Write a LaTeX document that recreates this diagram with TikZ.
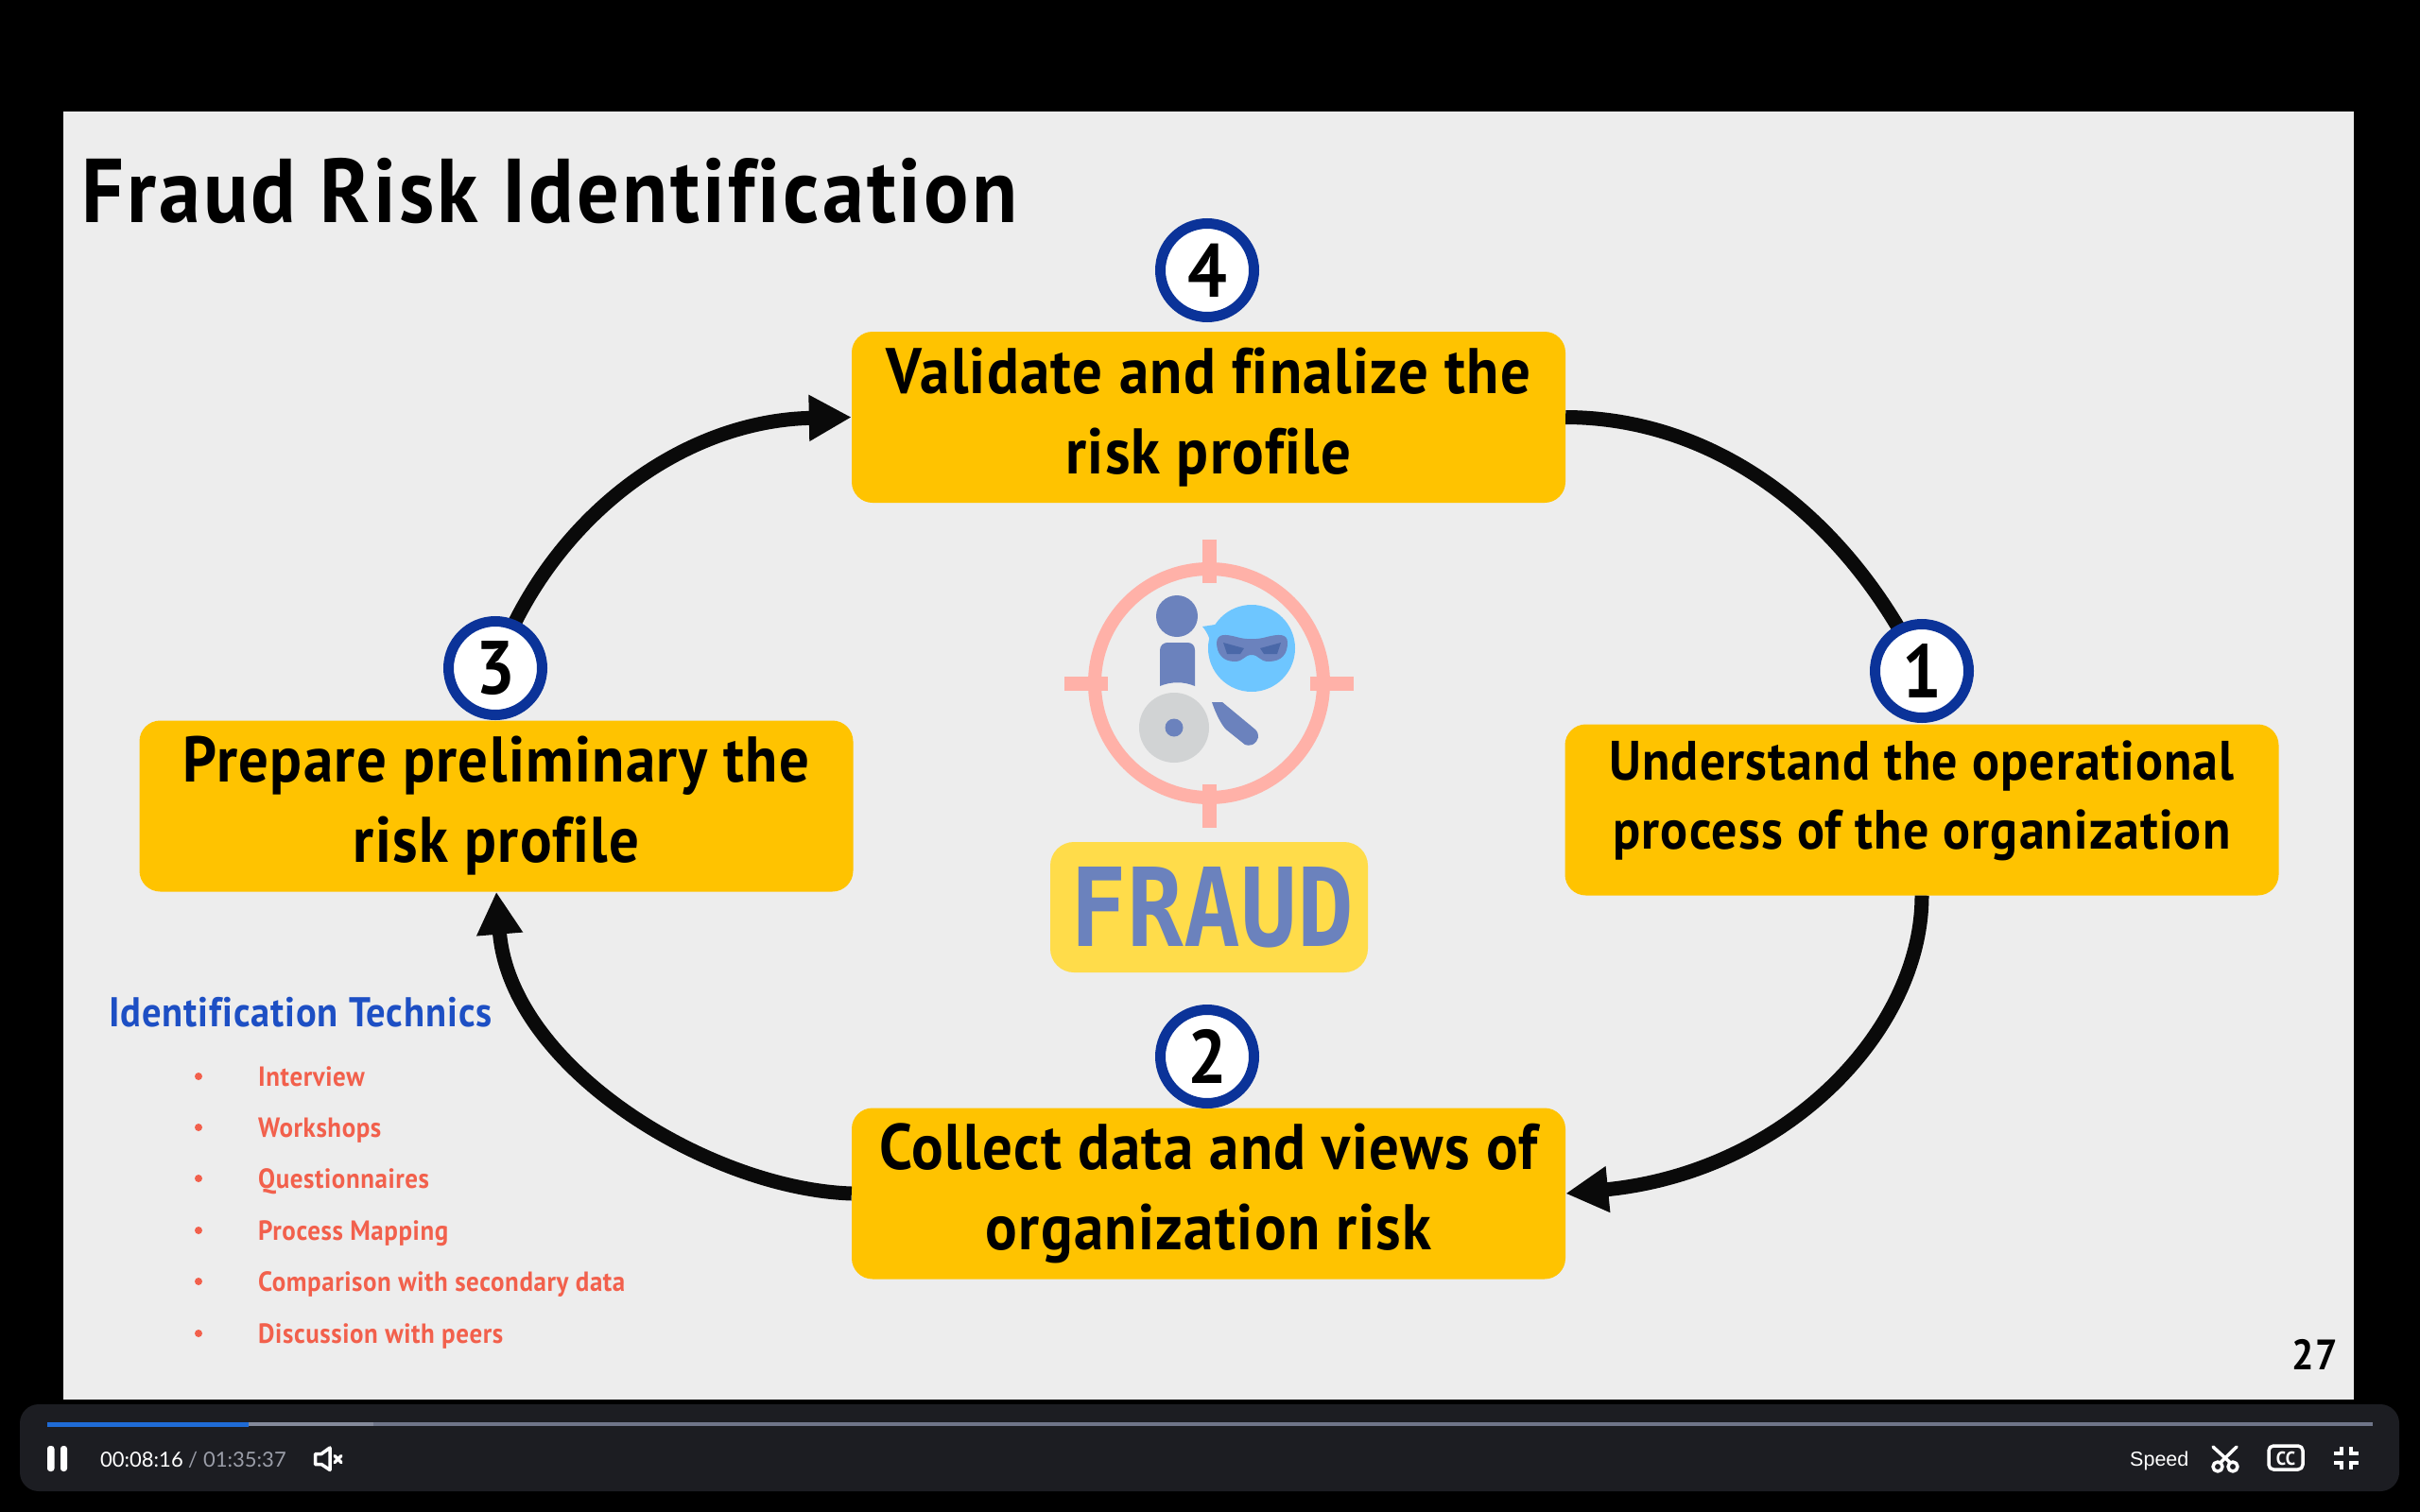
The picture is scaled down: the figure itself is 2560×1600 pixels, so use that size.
\documentclass[tikz,border=0pt]{standalone}
\usepackage{graphicx}
\usepackage{fontspec}
\setmainfont{PT Sans}[FakeStretch=0.92,LetterSpace=2,Ligatures=CommonOff]
\newfontfamily\titlefont{PT Sans}[FakeStretch=0.92,LetterSpace=3.25,Ligatures=CommonOff]
\newfontfamily\uifont{Lato}
\newfontfamily\spfont{Liberation Sans}
\newfontfamily\logofont{DejaVu Sans Mono}
\usetikzlibrary{arrows.meta}
\definecolor{slidebg}{HTML}{EDEDED}
\definecolor{boxy}{HTML}{FFC300}
\definecolor{ringblue}{HTML}{0B3399}
\definecolor{headblue}{HTML}{1D4FC4}
\definecolor{listred}{HTML}{F2604C}
\definecolor{iconblue}{HTML}{6B82BD}
\definecolor{iconpink}{HTML}{FFB1A8}
\definecolor{iconsky}{HTML}{6EC6FF}
\definecolor{icondark}{HTML}{4A68A8}
\definecolor{icongrey}{HTML}{D1D3D4}
\definecolor{logoy}{HTML}{FFDC4A}
\definecolor{barbg}{HTML}{1C1D22}
\definecolor{track}{HTML}{6F7589}
\definecolor{played}{HTML}{1F6BD6}
\definecolor{uigrey}{HTML}{9A9DA8}
\definecolor{inkblack}{HTML}{0A0A0A}
\tikzset{
  stepbox/.style={fill=boxy,rounded corners=22pt,minimum width=755pt,minimum height=181pt,inner sep=0pt,align=center,font=\bfseries\fontsize{68.3}{85}\selectfont},
  stepbare/.style={inner sep=0pt,align=center,font=\bfseries\fontsize{58.7}{73}\selectfont},
  badge/.style={circle,draw=ringblue,line width=11pt,fill=white,minimum size=99pt,inner sep=0pt,font=\bfseries\fontsize{80}{80}\selectfont},
  flow/.style={line width=15pt,inkblack},
  flowarrow/.style={flow,-{Triangle[length=45pt,width=46pt]}},
  listitem/.style={anchor=base west,inner sep=0pt,text=listred,font=\bfseries\fontsize{29.3}{30}\selectfont},
  uiicon/.style={white,line width=3.5pt,line cap=round,line join=round},
}
\begin{document}
\begin{tikzpicture}[x=1pt,y=-1pt]
\useasboundingbox (0,0) rectangle (2560,1600);
\fill[black] (0,0) rectangle (2560,1600);
\fill[slidebg] (67,118) rectangle (2490,1481);
% title
\node[anchor=base west,inner sep=0pt,font=\titlefont\bfseries\fontsize{96}{96}\selectfont] (title) at (86,235) {Fraud Risk Identification};
% boxes
\node[stepbox] (b4) at (1278.5,441.5) {Validate and finalize the\\risk profile};
\node[stepbox] (b1) at (2033,857) {};
\node[stepbare] (t1) at (2033,847) {Understand the operational\\process of the organization};
\node[stepbox] (b2) at (1278.5,1263) {Collect data and views of\\organization risk};
\node[stepbox] (b3) at (525,853) {Prepare preliminary the\\risk profile};
\coordinate (c1p) at (2033,710);
\coordinate (c3p) at (524,707);
% connectors
\draw[flow] (b4.east) .. controls (1810,442) and (1950,540) .. (c1p);
\draw[flowarrow] (b1.south) .. controls (2033,1090) and (1890,1240) .. (b2.east);
\draw[flowarrow] (b2.west) .. controls (750,1258) and (540,1130) .. (b3.south);
\draw[flowarrow] (c3p) .. controls (580,550) and (720,445) .. (b4.west);
% badges
\node[badge] (c4) at (1277,286) {4};
\node[badge] (c1) at (2033,710) {1};
\node[badge] (c2) at (1277,1118) {2};
\node[badge] (c3) at (524,707) {3};
% icon
\draw[iconpink,line width=14pt] (1279,723) circle[radius=121];
\draw[iconpink,line width=15pt] (1126,723) -- (1172,723) (1386,723) -- (1432,723) (1279,571) -- (1279,617) (1279,830) -- (1279,876);
\fill[iconblue] (1245,652) circle[radius=22];
\fill[iconblue] (1227,726) -- (1227,688) .. controls (1227,683) and (1231,680) .. (1235,680) -- (1256,680) .. controls (1261,680) and (1264,683) .. (1264,688) -- (1264,726) .. controls (1252,721) and (1239,721) .. cycle;
\fill[icongrey] (1242,770) circle[radius=37];
\fill[iconblue] (1242,770) circle[radius=9.5];
\fill[iconblue] (1282,743) -- (1293,743) -- (1328,772) .. controls (1333,777) and (1332,784) .. (1325,788) .. controls (1322,789) and (1319,789) .. (1317,788) -- (1297,772) .. controls (1292,767) and (1286,755) .. cycle;
\fill[iconsky] (1324,686) circle[radius=46];
\fill[iconsky] (1272,663) -- (1292,660) -- (1282,690) .. controls (1282,680) and (1278,670) .. cycle;
\fill[iconblue] (1287,680) .. controls (1288,670) and (1296,671) .. (1308,674) .. controls (1318,677) and (1330,677) .. (1340,674) .. controls (1352,671) and (1362,670) .. (1362,680) .. controls (1362,692) and (1356,700) .. (1342,700) .. controls (1332,700) and (1332,693) .. (1324,693) .. controls (1316,693) and (1316,700) .. (1306,700) .. controls (1294,700) and (1287,692) .. cycle;
\fill[icondark] (1294,680) -- (1316,686) -- (1312,692) -- (1298,692) -- cycle;
\fill[icondark] (1355,680) -- (1333,686) -- (1337,692) -- (1351,692) -- cycle;
% logo
\fill[logoy,rounded corners=25pt] (1111,891) rectangle (1447,1029);
\node[inner sep=0pt,text=iconblue] (fraud) at (1282.5,960) {\resizebox{299pt}{84pt}{\logofont\bfseries FRAUD}};
% techniques
\node[anchor=base west,inner sep=0pt,text=headblue,font=\bfseries\fontsize{44}{45}\selectfont] (head) at (115,1086) {Identification Technics};
\foreach \nm/\yy/\tx in {i1/1149.5/Interview,i2/1203.5/Workshops,i3/1257.5/Questionnaires,i4/1312.5/Process Mapping,i5/1366.5/Comparison with secondary data,i6/1421.5/Discussion with peers}{
  \node[listitem] (\nm) at (273,\yy) {\tx};
  \fill[listred] (210,\yy-10.5) circle[radius=4];
}
\node[anchor=base east,inner sep=0pt,font=\bfseries\fontsize{45}{46}\selectfont] (page) at (2473,1449) {27};
% player bar
\fill[barbg,rounded corners=20pt] (21,1486) rectangle (2538,1578);
\fill[track] (50,1505) rectangle (2510,1509);
\fill[track!85!white] (263,1505) rectangle (395,1509);
\fill[played] (50,1505) rectangle (263,1509.5);
\fill[white,rounded corners=3pt] (50,1530) rectangle (57.5,1557) (64,1530) rectangle (71,1557);
\node[anchor=base west,inner sep=0pt,text=white,font=\uifont\fontsize{22}{22}\selectfont] (tnow) at (106,1552) {00:08:16};
\node[anchor=base west,inner sep=0pt,text=uigrey,font=\uifont\fontsize{22}{22}\selectfont] (tsep) at (199,1552) {/};
\node[anchor=base west,inner sep=0pt,text=uigrey,font=\uifont\fontsize{22}{22}\selectfont] (ttot) at (215,1552) {01:35:37};
\draw[uiicon] (333.5,1538.5) -- (340,1538.5) -- (349,1532) -- (349,1555.5) -- (340,1549.5) -- (333.5,1549.5) -- cycle;
\draw[uiicon] (354,1540.5) -- (361,1547.5) (361,1540.5) -- (354,1547.5);
\node[anchor=base west,inner sep=0pt,text=white,font=\spfont\fontsize{21.5}{22}\selectfont] (speed) at (2253,1551) {Speed};
% scissors
\draw[uiicon] (2346,1552) circle[radius=5] (2362,1552) circle[radius=5];
\draw[uiicon] (2349,1547.5) -- (2366,1531) (2359,1547.5) -- (2341,1531);
% cc
\draw[uiicon,rounded corners=5pt] (2400,1530) rectangle (2436,1555);
\node[inner sep=0pt,text=white,font=\bfseries\fontsize{20}{20}\selectfont] (cc) at (2418,1543) {CC};
% collapse
\draw[uiicon,line cap=butt,line join=miter] (2477,1531) -- (2477,1538) -- (2469,1538) (2487,1531) -- (2487,1538) -- (2495,1538) (2477,1555) -- (2477,1548) -- (2469,1548) (2487,1555) -- (2487,1548) -- (2495,1548);
\end{tikzpicture}
\end{document}
